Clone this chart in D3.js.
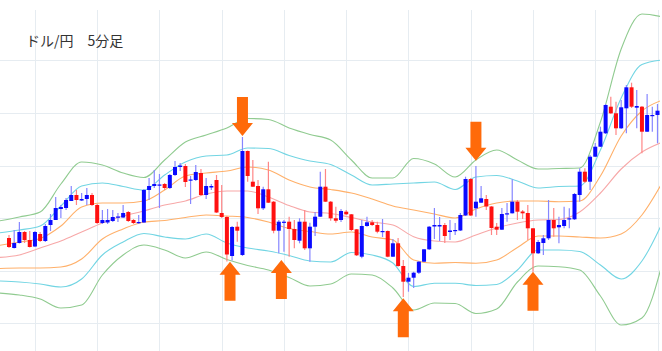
<!DOCTYPE html>
<html>
<head>
<meta charset="utf-8">
<script src="https://cdn.jsdelivr.net/npm/d3@7"></script>
<style>
  body { margin: 0; background: #fff; }
  svg { display: block; font-family: "Noto Sans CJK JP", "Noto Sans", sans-serif; }
</style>
</head>
<body>
<svg id="chart" width="662" height="351"></svg>
<script>
// 5 minute candles, price in pips (relative)
const open = [113,103,108,119,111,104.5,117,110,126,131,
  142,143,150,156,150.5,152,156,146,128,128.5,
  130,133.5,133.5,139,131,128,128.5,161,165,165.5,
  167,163,176,184,185,170.5,171,178,156,163.5,
  171,138,134,95,124.3,96,200,169.3,165,142.7,
  161.7,149.3,120.3,128.3,129.3,122,110.3,129.3,102.7,124.3,
  134.3,164.3,149.3,132.7,131,139.3,136.7,121.7,94.3,125,
  128.7,126,119,120,94.3,107.7,85,69.3,73.3,78.3,
  89.3,101.7,124.5,124.5,126,119,120,120.5,135.5,172,
  142.7,148.3,152,144.5,124.3,121.3,136.7,137.7,149.3,139.5,
  138,122.7,97.7,108,112.7,131,123.7,125,131.5,131.7,
  156,179.3,169.3,194.3,204.3,217.7,244.3,237.7,222.7,242.7,
  263.7,243.3,244.3,219.3,235,236];
const close = [104,108,119,111,104,119,110,125,131,143,
  144,151,156,151,152,156,146,128,131,131,
  134,134.5,138,130,128,129,161,165,167,166.5,
  163,176,184,185.5,169,171.5,179,156,165,165,
  138.5,134,96.5,124,120.3,200,175,164.3,142.7,161.7,
  148.3,120.3,129.3,129.3,122,111,129.3,102.7,124.3,134.3,
  164.3,149.3,132.7,130.3,140,136.7,121,95.7,125,128.7,
  126,119.3,120,94.3,107.7,85,69.3,73.3,78.3,89.3,
  101.7,124.3,126,126,115,120.5,121,136,172,135.5,
  149.3,152.7,144.5,123,121.3,137,137.7,149.3,139.3,137.7,
  122.7,97.7,109,112.7,131,122.7,126,131,132.7,157,
  179.3,169.3,194.3,204.3,219.3,246,237.7,222.7,243.7,263.7,
  244.3,245,219.3,236,236,240.3];
const high = [116,121,129,120,120,120,119,127,137,154,
  146,153,165,161,158,163,158,147,141,142,
  141,138,146,140,132,136,162,173,181,177,
  168,177,190,188,187,175,186,182,173,167,
  176,166,135,125,129.3,214,200.5,191,171,164.3,
  189.3,150,131,131,134.3,131,132.7,141,128.3,139,
  179.3,182,150,144.3,142,141,137,122,131,134.3,
  131,129.3,132,120.5,112,113,91,78,79.3,90,
  102,125,143,134,128,131,128,138,174.3,173,
  185,165,156,145,128,143,148,171.7,151,141,
  146,123,111,116,151,143,134.3,144.3,142.7,158,
  182.7,182.7,196,208,224.3,247,254.3,249.3,251,266,
  268.3,261,245,257,244.3,247];
const low = [103,102.5,107.5,108,103.5,104,109,109,120,131,
  133,141,150,146,150,146,145,127,127,127,
  129,129,133,129,127,127,128,151,163,143,
  161,162,175,180,164,147,170,155,152,161,
  138,133,89.5,90.5,109.3,95,169.3,164,137,141,
  148,117.7,97.7,99.3,94.3,102.7,107.7,101,89.3,115,
  134,149,130.3,128.3,129,136,120,95,92.7,124.3,
  125,117.7,114,93.7,94,84.3,54,59.3,63,77,
  89,101,112,110,108,111,116,120,135,135,
  134.3,148,141,116,116,121,129.3,137.5,131,132,
  111,79.3,97,96,111,114.3,107.7,122.7,122.7,131,
  149.3,168,161,194,204,217,237,216,222,217.7,
  243,222.7,197.7,219,219.3,207.7];

// Bollinger band lines, sampled every 4 candles
const bandIdx = [-2,2,6,10,14,18,22,26,30,34,38,42,46,50,54,58,62,66,70,74,78,82,86,90,94,98,102,106,110,114,118,122,126];
const bandUpper3 = [130,134,139,167,189,186,178,173.5,191,209,216,223,232.5,231.5,223,216.5,211,191,173,173,192.5,187,174,191,201,191,182,182.5,183,229,302,337,334];
const bandUpper2 = [118,121,125,145,165,168,164.5,161,176,189,195,196,203,202.5,195.5,190,186.5,176,166,167,168,169,161.5,174,175.5,170,163,164.5,165,201,253,286.5,291];
const bandUpper1 = [105.5,109,112.5,125,144,148,148,150,161,175,178,180,184,181,171,164,161.5,158,152,145,141,137,133,142,148,150,150,149.3,150,175,215,240,251];
const bandMid    = [93.5,96,103,110,119,128,135,140,146,150,157,160,160,154,145.5,139,137.5,133.5,129,126,114.3,110,109,116,123,128,131,131.5,139,158,182,199,209];
const bandLower1 = [82.5,83,83,84,92,112,122,129,130.5,133.5,136,135,133.5,129,122.5,119.5,117,119,114,111,91,87.7,88.5,87.7,91,103.5,115,115,114,113,117,136,169];
const bandLower2 = [70,69,67,64,72,96,109,117.5,114,112,117,108,103,100,95.5,90,89,98.5,96,88,64.5,67.7,67.7,65.5,66.5,81,101,101,99.5,86,72,90,129];
const bandLower3 = [58,56,52,43,46,76,96,106,101,93,99,91.5,85.5,81,73.5,65,67,77,76,63,41,48,47.5,37.5,42,69,85,84.3,81,55,26,33,89];

// hourly grid (every 12 candles) and price grid
const hourIdx = [5,17,29,41,53,65,77,89,101,113,125];
const gridPrices = [28,80.5,133,185.5,238,291];

// signal arrows
const arrowIdx = [45,42.6,52.5,76,90,101];
const arrowDir = ["down","up","up","up","down","up"];
const arrowTip = [215,89.3,91,52.7,190.3,79.3];

const titleText = "ドル/円　5分足";

const svg = d3.select("#chart");
const width = 662, height = 351;

const x = d3.scaleLinear().domain([0, 125]).range([9, 657.5]);
const y = d3.scaleLinear().domain([0, 351]).range([351, 0]);

svg.append("rect").attr("width", width).attr("height", height).attr("fill", "#fff");

// grid
const grid = svg.append("g");
grid.selectAll("line.h").data(gridPrices).enter().append("line")
  .attr("x1", 0).attr("x2", 660)
  .attr("y1", d => Math.round(y(d)) + 0.5).attr("y2", d => Math.round(y(d)) + 0.5)
  .attr("stroke", "#e6ecf1").attr("stroke-width", 1);
grid.selectAll("line.v").data(hourIdx).enter().append("line")
  .attr("x1", d => Math.round(x(d)) + 0.5).attr("x2", d => Math.round(x(d)) + 0.5)
  .attr("y1", 10).attr("y2", height)
  .attr("stroke", "#e6ecf1").attr("stroke-width", 1);

// clip for bands
svg.append("clipPath").attr("id", "plotClip")
  .append("rect").attr("x", 0).attr("y", 0).attr("width", 660).attr("height", height);

const bands = [
  { vals: bandUpper3, color: "#90cb90" },
  { vals: bandLower3, color: "#90cb90" },
  { vals: bandUpper2, color: "#72d5e3" },
  { vals: bandLower2, color: "#72d5e3" },
  { vals: bandUpper1, color: "#ffb06a" },
  { vals: bandLower1, color: "#ffb06a" },
  { vals: bandMid,    color: "#f7a8a8" }
];

const line = d3.line()
  .x(d => x(d[0]))
  .y(d => y(d[1]))
  .curve(d3.curveMonotoneX);

svg.append("g").attr("clip-path", "url(#plotClip)")
  .selectAll("path").data(bands).enter().append("path")
  .attr("d", b => line(bandIdx.map((i, k) => [i, b.vals[k]])))
  .attr("fill", "none")
  .attr("stroke", b => b.color)
  .attr("stroke-width", 1.1);

// candles
const candles = open.map((o, i) => ({ i: i, o: o, c: close[i], h: high[i], l: low[i] }));
const bodyW = 4;
const cg = svg.append("g");

cg.selectAll("line.wick").data(candles).enter().append("line")
  .attr("x1", d => x(d.i)).attr("x2", d => x(d.i))
  .attr("y1", d => y(d.h)).attr("y2", d => y(d.l))
  .attr("stroke", d => d.c >= d.o ? "#8686ff" : "#ff8686")
  .attr("stroke-width", 1.2);

cg.selectAll("rect.body").data(candles).enter().append("rect")
  .attr("x", d => x(d.i) - bodyW / 2)
  .attr("y", d => y(Math.max(d.o, d.c)))
  .attr("width", bodyW)
  .attr("height", d => Math.max(1.2, Math.abs(y(d.o) - y(d.c))))
  .attr("fill", d => d.c >= d.o ? "#0a0aff" : "#ff1010");

// arrows
const headLen = 13, headHalf = 10.5, shaftHalf = 5.5, arrowLen = 39;
const arrows = arrowIdx.map((a, k) => ({ i: a, dir: arrowDir[k], tip: arrowTip[k] }));
svg.append("g").selectAll("path").data(arrows).enter().append("path")
  .attr("d", d => {
    const cx = x(d.i), ty = y(d.tip);
    const s = d.dir === "down" ? -1 : 1;
    const pts = [
      [cx, ty],
      [cx + headHalf, ty + s * headLen],
      [cx + shaftHalf, ty + s * headLen],
      [cx + shaftHalf, ty + s * arrowLen],
      [cx - shaftHalf, ty + s * arrowLen],
      [cx - shaftHalf, ty + s * headLen],
      [cx - headHalf, ty + s * headLen]
    ];
    return "M" + pts.map(p => p.join(",")).join("L") + "Z";
  })
  .attr("fill", "#ff6a0a");

// title
svg.append("text")
  .attr("x", 26).attr("y", 46)
  .attr("font-size", 14)
  .attr("fill", "#333")
  .text(titleText);
</script>
</body>
</html>
